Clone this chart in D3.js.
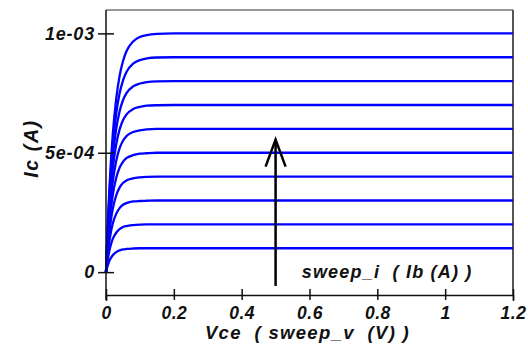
<!DOCTYPE html>
<html><head><meta charset="utf-8">
<script src="https://cdn.jsdelivr.net/npm/d3@7/dist/d3.min.js"></script>
<style>
body{margin:0;background:#fff;}
svg text{font-family:"Liberation Sans",Arial,sans-serif;font-weight:bold;font-style:italic;fill:#111;white-space:pre;}
</style></head>
<body><svg id="c" width="528" height="347"></svg>
<script>
// Vce sweep points (V)
const vce = [0, 0.005, 0.01, 0.015, 0.02, 0.03, 0.04, 0.05, 0.06, 0.08, 0.1, 0.12, 0.15, 0.2, 1.2];
// Ib sweep (A)
const ib = [1e-5, 2e-5, 3e-5, 4e-5, 5e-5, 6e-5, 7e-5, 8e-5, 9e-5, 1e-4];
// Ic curves in microamps, one per Ib
const ic1  = [0, 27, 47, 61, 71, 84, 91, 95, 97, 99, 100, 100, 100, 100, 100];
const ic2  = [0, 51, 90, 118, 139, 165, 180, 189, 193, 197, 199, 200, 200, 200, 200];
const ic3  = [0, 74, 130, 172, 204, 244, 268, 282, 289, 296, 298, 299, 300, 300, 300];
const ic4  = [0, 95, 168, 223, 265, 321, 354, 373, 384, 393, 397, 399, 400, 400, 400];
const ic5  = [0, 115, 203, 271, 324, 394, 437, 462, 477, 490, 496, 498, 500, 500, 500];
const ic6  = [0, 133, 236, 317, 379, 465, 518, 550, 569, 587, 594, 598, 600, 600, 600];
const ic7  = [0, 150, 267, 360, 432, 534, 597, 636, 660, 683, 692, 697, 699, 700, 700];
const ic8  = [0, 165, 296, 400, 483, 599, 673, 720, 749, 778, 790, 796, 799, 800, 800];
const ic9  = [0, 180, 324, 439, 531, 663, 748, 802, 837, 873, 888, 895, 899, 900, 900];
const ic10 = [0, 194, 350, 476, 578, 725, 821, 883, 924, 966, 985, 993, 998, 1000, 1000];
const icCurves = [ic1, ic2, ic3, ic4, ic5, ic6, ic7, ic8, ic9, ic10];

const xTicks = [0, 0.2, 0.4, 0.6, 0.8, 1, 1.2];
const xTickLabels = ["0", "0.2", "0.4", "0.6", "0.8", "1", "1.2"];
const yTicks = [0, 5e-4, 1e-3];
const yTickLabels = ["0", "5e-04", "1e-03"];
const xTitle = "Vce  ( sweep_v  (V) )";
const yTitle = "Ic (A)";
const annText = "sweep_i  ( Ib (A) )";
// arrow annotation (data coords)
const arrowX = 0.5, arrowFrom = -5.8e-5, arrowTo = 5.55e-4;

const svg = d3.select("#c");
const L = 106, R = 513, T = 10, B = 295;
const x = d3.scaleLinear().domain([0, 1.2]).range([L, R]);
const y = d3.scaleLinear().domain([-1e-4, 1.1e-3]).range([296, 9.5]);

// frame top/right
svg.append("line").attr("x1", L).attr("x2", R).attr("y1", T).attr("y2", T).attr("stroke", "#777").attr("stroke-width", 1.5);
svg.append("line").attr("x1", R).attr("x2", R).attr("y1", T).attr("y2", B).attr("stroke", "#555").attr("stroke-width", 2);

// curves
const line = d3.line().x((d, i) => x(vce[i])).y(d => y(d * 1e-6)).curve(d3.curveMonotoneX);
svg.append("g").selectAll("path").data(icCurves).join("path")
  .attr("d", d => line(d)).attr("fill", "none").attr("stroke", "#0000ff").attr("stroke-width", 2.3);

// axes
const xa = svg.append("g").attr("transform", `translate(0,${B})`)
  .call(d3.axisBottom(x).tickValues(xTicks).tickFormat((d, i) => xTickLabels[i]).tickSizeOuter(0).tickSize(6).tickPadding(10));
xa.select(".domain").attr("stroke", "#111").attr("stroke-width", 1.5);
xa.selectAll(".tick line").attr("y1", -6).attr("y2", 5).attr("stroke", "#111").attr("stroke-width", 1.5);
xa.selectAll(".tick text").attr("font-size", 17.5).attr("fill", "#111").attr("dy", "0.72em").attr("y", 11).attr("letter-spacing", 0.5);

const ya = svg.append("g").attr("transform", `translate(${L},0)`)
  .call(d3.axisLeft(y).tickValues(yTicks).tickFormat((d, i) => yTickLabels[i]).tickSizeOuter(0).tickSize(8).tickPadding(4));
ya.select(".domain").attr("d", `M0,${T}V${B + 5}`).attr("stroke", "#111").attr("stroke-width", 1.5);
ya.selectAll(".tick line").attr("x1", -8).attr("x2", 8).attr("stroke", "#111").attr("stroke-width", 1.5);
ya.selectAll(".tick text").attr("font-size", 18).attr("fill", "#111").attr("x", -11).attr("letter-spacing", 0.8);

// titles
svg.append("text").attr("x", (L + R) / 2 - 2).attr("y", 339).attr("text-anchor", "middle").attr("font-size", 18.5).attr("letter-spacing", 1.3).text(xTitle);
svg.append("text").attr("transform", `translate(38,${(T + B) / 2 - 4}) rotate(-90)`).attr("text-anchor", "middle").attr("font-size", 19.5).attr("letter-spacing", 1.6).text(yTitle);

// annotation arrow
const ax = x(arrowX);
svg.append("line").attr("x1", ax).attr("x2", ax).attr("y1", y(arrowFrom)).attr("y2", y(arrowTo)).attr("stroke", "#000").attr("stroke-width", 2.5);
svg.append("path").attr("d", `M${ax - 10},${y(arrowTo) + 27}L${ax},${y(arrowTo)}L${ax + 10},${y(arrowTo) + 27}`)
  .attr("fill", "none").attr("stroke", "#000").attr("stroke-width", 2.5);
svg.append("text").attr("x", x(0.577)).attr("y", 278).attr("font-size", 18).attr("letter-spacing", 1.2).text(annText);
</script></body></html>
